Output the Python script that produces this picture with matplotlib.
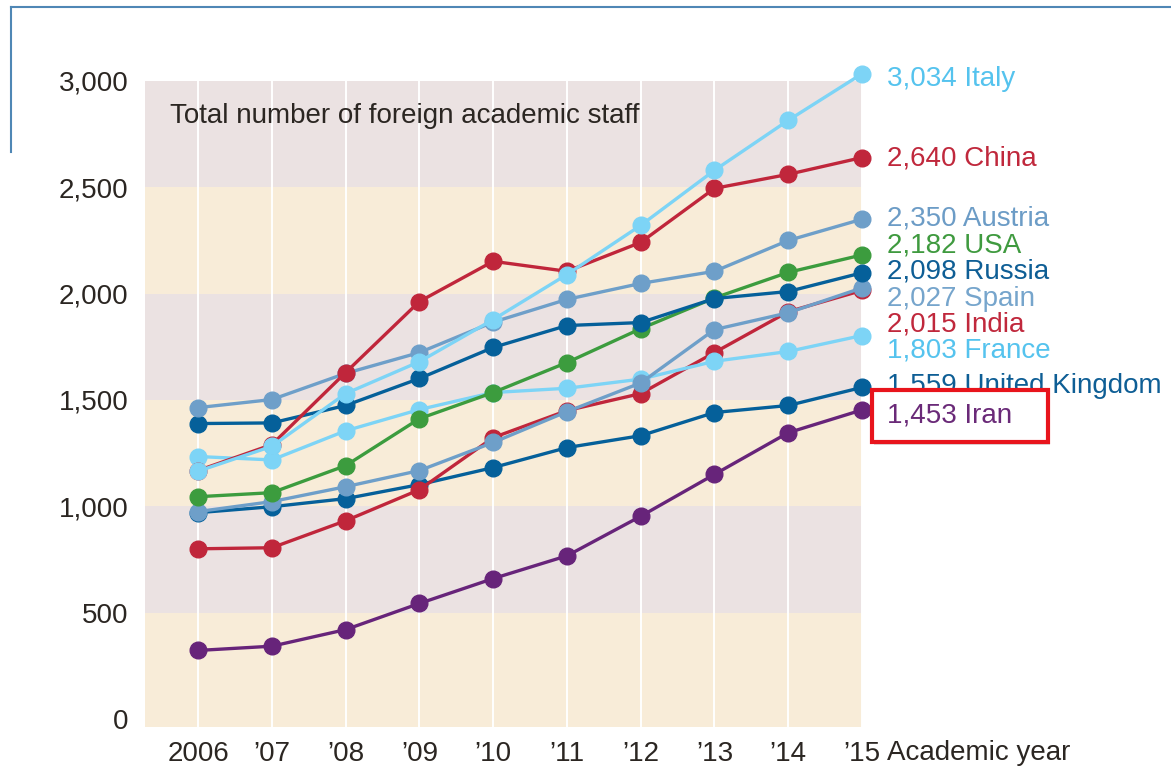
import matplotlib
matplotlib.use("Agg")
import matplotlib.pyplot as plt
from matplotlib.patches import Rectangle
from matplotlib.lines import Line2D

plt.rcParams["font.family"] = ["Liberation Sans", "DejaVu Sans"]

years = ["2006", "\u201907", "\u201908", "\u201909", "\u201910", "\u201911", "\u201912", "\u201913", "\u201914", "\u201915"]

italy = [1165, 1282, 1530, 1680, 1878, 2090, 2321, 2580, 2815, 3034]
china = [1168, 1290, 1629, 1963, 2152, 2105, 2241, 2495, 2561, 2640]
austria = [1464, 1502, 1625, 1723, 1866, 1973, 2048, 2105, 2250, 2350]
usa = [1045, 1064, 1191, 1412, 1535, 1676, 1835, 1980, 2100, 2182]
russia = [1389, 1392, 1474, 1601, 1747, 1850, 1864, 1977, 2010, 2098]
spain = [975, 1022, 1092, 1168, 1300, 1445, 1580, 1831, 1910, 2027]
india = [800, 805, 932, 1078, 1323, 1450, 1530, 1723, 1915, 2015]
france = [1234, 1218, 1355, 1455, 1535, 1555, 1598, 1682, 1728, 1803]
uk = [970, 998, 1036, 1102, 1182, 1276, 1332, 1441, 1474, 1559]
iran = [322, 342, 420, 543, 660, 767, 953, 1150, 1346, 1453]

# drawing order: first = bottom
series = [
    ("Iran", iran, "#67247a", "#6a2a78"),
    ("United Kingdom", uk, "#05609a", "#0e5e95"),
    ("India", india, "#c0263b", "#c0283c"),
    ("France", france, "#7dd4f6", "#55c3ee"),
    ("Spain", spain, "#6e9fc9", "#76a5cc"),
    ("USA", usa, "#3c9c3e", "#3f9a3f"),
    ("Russia", russia, "#05609a", "#0e5e95"),
    ("Austria", austria, "#6e9fc9", "#6c9cc6"),
    ("China", china, "#c0263b", "#c0283c"),
    ("Italy", italy, "#7dd4f6", "#55c3ee"),
]

# vertical position of the end labels (data units)
label_y = {
    "Italy": 3010, "China": 2634, "Austria": 2352, "USA": 2225, "Russia": 2103,
    "Spain": 1976, "India": 1853, "France": 1731, "United Kingdom": 1566, "Iran": 1425,
}

W, H = 1171, 768
fig = plt.figure(figsize=(W / 100, H / 100), dpi=100)
ax = fig.add_axes([145 / W, 1 - 727 / H, (862 - 145) / W, (727 - 81) / H])

x = list(range(len(years)))
ymin, ymax = -38, 3000
bands = [(ymin, 500, "#f8ecd8"), (500, 1000, "#ebe2e2"), (1000, 1500, "#f8ecd8"),
         (1500, 2000, "#ebe2e2"), (2000, 2500, "#f8ecd8"), (2500, 3000, "#ebe2e2")]
for lo, hi, c in bands:
    ax.axhspan(lo, hi, color=c, lw=0, zorder=0)
for xi in x:
    ax.axvline(xi, color="white", lw=1.4, zorder=1)

for i, (name, vals, col, tcol) in enumerate(series):
    ax.plot(x, vals, color=col, lw=2.4, marker="o", ms=12, zorder=2 + i * 0.1,
            clip_on=False)
    txt = f"{vals[-1]:,} {name}"
    z = 6 if name == "Iran" else 4
    ax.annotate(txt, xy=(x[-1], label_y[name]), xytext=(18, 0),
                textcoords="offset points", color=tcol, fontsize=20,
                va="center", ha="left", annotation_clip=False, zorder=z)

ax.set_xlim(-0.72, 9)
ax.set_ylim(ymin, ymax)
ax.set_yticks([0, 500, 1000, 1500, 2000, 2500, 3000])
ax.set_yticklabels(["0", "500", "1,000", "1,500", "2,000", "2,500", "3,000"])
ax.set_xticks(x)
ax.set_xticklabels(years)
ax.tick_params(length=0, labelsize=20, labelcolor="#2b2622")
ax.tick_params(axis="y", pad=12)
ax.tick_params(axis="x", pad=10)
for s in ax.spines.values():
    s.set_visible(False)

ax.text(170 / W, 1 - 116 / H, "Total number of foreign academic staff",
        transform=fig.transFigure, fontsize=20, color="#2b2622", va="center", ha="left",
        zorder=3)
fig.text(887 / W, 1 - 753 / H, "Academic year", fontsize=20, color="#2b2622",
         va="center", ha="left")

# highlight box round the Iran label
shadow = Rectangle((874 / W, 1 - 445 / H), 176 / W, 52 / H, transform=fig.transFigure,
                   facecolor="#999999", alpha=0.35, lw=0, clip_on=False, zorder=4.8)
box = Rectangle((872 / W, 1 - 442 / H), 176 / W, 52 / H, transform=fig.transFigure,
                facecolor="white", edgecolor="#e8141c", lw=3, clip_on=False, zorder=5)
ax.add_patch(shadow)
ax.add_patch(box)

# frame corner at top left
fig.add_artist(Line2D([11 / W, 11 / W], [1 - 152 / H, 1 - 7 / H], color="#4f87b5", lw=1.5,
                      transform=fig.transFigure))
fig.add_artist(Line2D([11 / W, 1], [1 - 7 / H, 1 - 7 / H], color="#4f87b5", lw=1.5,
                      transform=fig.transFigure))

fig.savefig("out.png", dpi=100)
